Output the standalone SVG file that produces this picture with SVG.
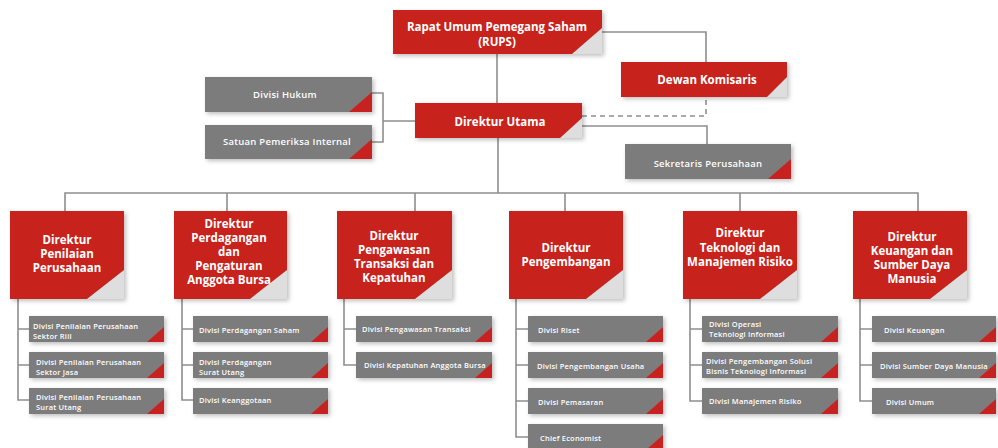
<svg xmlns="http://www.w3.org/2000/svg" width="998" height="448" viewBox="0 0 998 448">
<defs>
<filter id="sh" x="-10%" y="-10%" width="130%" height="140%">
<feDropShadow dx="2" dy="2" stdDeviation="2" flood-color="#000" flood-opacity="0.25"/>
</filter>
</defs>
<style>
.r{fill:#c7221f;filter:url(#sh)}
.g{fill:#7b7b7b;filter:url(#sh)}
.lt{fill:#dedede}
.rt{fill:#c7221f}
.c{stroke:#8e8e8e;stroke-width:1.6;fill:none}
.d{stroke:#8e8e8e;stroke-width:1.6;fill:none;stroke-dasharray:5 4}
text{font-family:"Open Sans","Noto Sans","DejaVu Sans",sans-serif;fill:#fff;font-weight:700}
.t1{font-size:11.5px;text-anchor:middle}
.t2{font-size:9.5px;text-anchor:middle;font-weight:600;letter-spacing:0.25px}
.t3{font-size:7.5px;font-weight:600;letter-spacing:0.2px}
</style>
<rect width="998" height="448" fill="#fff"/>
<g id="connectors">
<path class="c" d="M602 32H706V62"/>
<path class="c" d="M497 54V103"/>
<path class="c" d="M498 138V193"/>
<path class="d" d="M582 116H706V97"/>
<path class="c" d="M582 126H707V144"/>
<path class="c" d="M372 93H383V142H372M383 121H415"/>
<path class="c" d="M65 211V193H918V211M227 193V211M415 193V211M565 193V211M740 193V211"/>
<path class="c" d="M18 299V400H29M18 329H29M18 365H29"/>
<path class="c" d="M182 299V400H193M182 329H193M182 365H193"/>
<path class="c" d="M344 299V365H356M344 329H356"/>
<path class="c" d="M516 299V437H528M516 329H528M516 365H528M516 401H528"/>
<path class="c" d="M690 299V401H702M690 329H702M690 365H702"/>
<path class="c" d="M860 299V401H872M860 329H872M860 365H872"/>
</g>
<g id="rups"><rect class="r" x="393" y="10" width="209" height="44"/><polygon class="lt" points="602,28 602,54 572,54"/><text class="t1" x="497" y="31">Rapat Umum Pemegang Saham</text><text class="t1" x="497" y="46">(RUPS)</text></g>
<g id="dewan"><rect class="r" x="621" y="62" width="166" height="35"/><polygon class="lt" points="787,77 787,97 767,97"/><text class="t1" x="707" y="84">Dewan Komisaris</text></g>
<g id="dirut"><rect class="r" x="415" y="103" width="167" height="35"/><polygon class="lt" points="582,118 582,138 560,138"/><text class="t1" x="500" y="126">Direktur Utama</text></g>
<g id="sekretaris"><rect class="g" x="625" y="144" width="166" height="35"/><polygon class="rt" points="791,159 791,179 768,179"/><text class="t2" x="708" y="167">Sekretaris Perusahaan</text></g>
<g id="hukum"><rect class="g" x="205" y="77" width="167" height="35"/><polygon class="rt" points="372,92 372,112 349,112"/><text class="t2" x="285" y="98">Divisi Hukum</text></g>
<g id="spi"><rect class="g" x="205" y="125" width="167" height="34"/><polygon class="rt" points="372,139 372,159 349,159"/><text class="t2" x="287" y="145">Satuan Pemeriksa Internal</text></g>
<g id="dir1"><rect class="r" x="10" y="211" width="114" height="88"/><polygon class="lt" points="124,270 124,299 87,299"/><text class="t1" x="67"><tspan x="67" y="244">Direktur</tspan><tspan x="67" y="258">Penilaian</tspan><tspan x="67" y="272">Perusahaan</tspan></text></g>
<g id="dir2"><rect class="r" x="174" y="211" width="113" height="88"/><polygon class="lt" points="287,270 287,299 250,299"/><text class="t1" x="229"><tspan x="229" y="228">Direktur</tspan><tspan x="229" y="242">Perdagangan</tspan><tspan x="229" y="256">dan</tspan><tspan x="229" y="270">Pengaturan</tspan><tspan x="229" y="284">Anggota Bursa</tspan></text></g>
<g id="dir3"><rect class="r" x="337" y="211" width="115" height="88"/><polygon class="lt" points="452,270 452,299 415,299"/><text class="t1" x="394"><tspan x="394" y="240">Direktur</tspan><tspan x="394" y="254">Pengawasan</tspan><tspan x="394" y="268">Transaksi dan</tspan><tspan x="394" y="282">Kepatuhan</tspan></text></g>
<g id="dir4"><rect class="r" x="509" y="211" width="114" height="88"/><polygon class="lt" points="623,270 623,299 586,299"/><text class="t1" x="566"><tspan x="566" y="252">Direktur</tspan><tspan x="566" y="266">Pengembangan</tspan></text></g>
<g id="dir5"><rect class="r" x="683" y="211" width="114" height="88"/><polygon class="lt" points="797,270 797,299 760,299"/><text class="t1" x="740"><tspan x="740" y="237">Direktur</tspan><tspan x="740" y="252">Teknologi dan</tspan><tspan x="740" y="266">Manajemen Risiko</tspan></text></g>
<g id="dir6"><rect class="r" x="853" y="211" width="114" height="88"/><polygon class="lt" points="967,270 967,299 930,299"/><text class="t1" x="912"><tspan x="912" y="241">Direktur</tspan><tspan x="912" y="255">Keuangan dan</tspan><tspan x="912" y="269">Sumber Daya</tspan><tspan x="912" y="283">Manusia</tspan></text></g>
<g id="d1a"><rect class="g" x="29" y="316" width="135" height="26"/><polygon class="rt" points="164,327 164,342 147,342"/><text class="t3"><tspan x="33" y="328.5">Divisi Penilaian Perusahaan</tspan><tspan x="33" y="338.5">Sektor Riil</tspan></text></g>
<g id="d1b"><rect class="g" x="29" y="352" width="135" height="26"/><polygon class="rt" points="164,363 164,378 147,378"/><text class="t3"><tspan x="36" y="364.5">Divisi Penilaian Perusahaan</tspan><tspan x="36" y="374.5">Sektor Jasa</tspan></text></g>
<g id="d1c"><rect class="g" x="29" y="388" width="135" height="26"/><polygon class="rt" points="164,399 164,414 147,414"/><text class="t3"><tspan x="36" y="399.5">Divisi Penilaian Perusahaan</tspan><tspan x="36" y="409.5">Surat Utang</tspan></text></g>
<g id="d2a"><rect class="g" x="193" y="316" width="135" height="26"/><polygon class="rt" points="328,327 328,342 311,342"/><text class="t3" x="199" y="332.5">Divisi Perdagangan Saham</text></g>
<g id="d2b"><rect class="g" x="193" y="352" width="135" height="26"/><polygon class="rt" points="328,363 328,378 311,378"/><text class="t3"><tspan x="199" y="364.5">Divisi Perdagangan</tspan><tspan x="199" y="374.5">Surat Utang</tspan></text></g>
<g id="d2c"><rect class="g" x="193" y="388" width="135" height="26"/><polygon class="rt" points="328,399 328,414 311,414"/><text class="t3" x="199" y="403">Divisi Keanggotaan</text></g>
<g id="d3a"><rect class="g" x="356" y="316" width="136" height="26"/><polygon class="rt" points="492,327 492,342 475,342"/><text class="t3" x="362" y="332">Divisi Pengawasan Transaksi</text></g>
<g id="d3b"><rect class="g" x="356" y="352" width="136" height="26"/><polygon class="rt" points="492,363 492,378 475,378"/><text class="t3" x="364" y="368">Divisi Kepatuhan Anggota Bursa</text></g>
<g id="d4a"><rect class="g" x="528" y="316" width="135" height="26"/><polygon class="rt" points="663,327 663,342 646,342"/><text class="t3" x="538" y="332.5">Divisi Riset</text></g>
<g id="d4b"><rect class="g" x="528" y="352" width="135" height="26"/><polygon class="rt" points="663,363 663,378 646,378"/><text class="t3" x="537" y="368.5">Divisi Pengembangan Usaha</text></g>
<g id="d4c"><rect class="g" x="528" y="388" width="135" height="26"/><polygon class="rt" points="663,399 663,414 646,414"/><text class="t3" x="538" y="404.5">Divisi Pemasaran</text></g>
<g id="d4d"><rect class="g" x="528" y="424" width="135" height="26"/><polygon class="rt" points="663,435 663,450 646,450"/><text class="t3" x="540" y="441">Chief Economist</text></g>
<g id="d5a"><rect class="g" x="702" y="316" width="136" height="26"/><polygon class="rt" points="838,327 838,342 821,342"/><text class="t3"><tspan x="709" y="327">Divisi Operasi</tspan><tspan x="709" y="337">Teknologi Informasi</tspan></text></g>
<g id="d5b"><rect class="g" x="702" y="352" width="136" height="26"/><polygon class="rt" points="838,363 838,378 821,378"/><text class="t3"><tspan x="706" y="363.5">Divisi Pengembangan Solusi</tspan><tspan x="706" y="373.5">Bisnis Teknologi Informasi</tspan></text></g>
<g id="d5c"><rect class="g" x="702" y="388" width="136" height="26"/><polygon class="rt" points="838,399 838,414 821,414"/><text class="t3" x="709" y="404">Divisi Manajemen Risiko</text></g>
<g id="d6a"><rect class="g" x="872" y="316" width="124" height="26"/><polygon class="rt" points="996,327 996,342 979,342"/><text class="t3" x="884" y="333">Divisi Keuangan</text></g>
<g id="d6b"><rect class="g" x="872" y="352" width="124" height="26"/><polygon class="rt" points="996,363 996,378 979,378"/><text class="t3" x="880" y="368.5">Divisi Sumber Daya Manusia</text></g>
<g id="d6c"><rect class="g" x="872" y="388" width="124" height="26"/><polygon class="rt" points="996,399 996,414 979,414"/><text class="t3" x="886" y="404.5">Divisi Umum</text></g>
</svg>
